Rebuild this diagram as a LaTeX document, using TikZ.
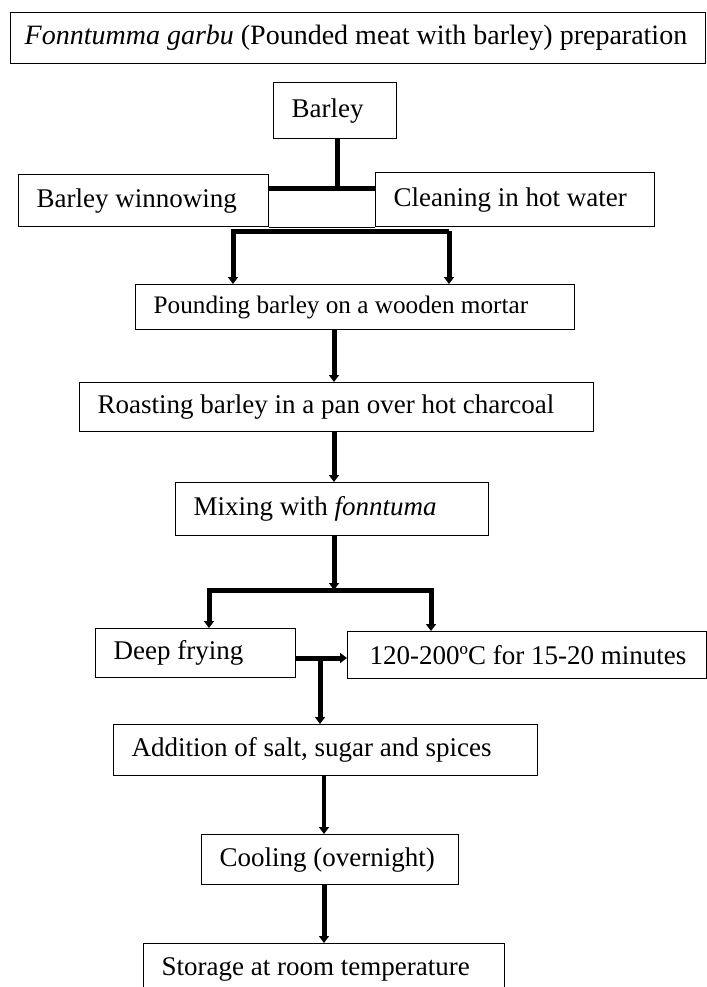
\documentclass[tikz,border=0pt]{standalone}
\usepackage{fontspec}
\setmainfont{Liberation Serif}
\usetikzlibrary{arrows.meta}
\newcommand{\lbox}[2]{\makebox[#1][l]{#2}}

\begin{document}
\begin{tikzpicture}[x=0.5pt,y=-0.5pt]
					\useasboundingbox (0,0) rectangle (707,987);
					\tikzstyle{every node}=[draw,shape=rectangle,line width=0.7pt,anchor=north west,inner xsep=9pt,inner ysep=0pt,font=\fontsize{13.5}{16}\selectfont]
					\tikzstyle{link}=[line width=2.5pt]
					\tikzstyle{arr}=[link,-{Triangle[width=5pt,length=3.5pt]}]
						\path (10,12) node[inner xsep=7pt,minimum height=25.5pt,font=\fontsize{14}{16}\selectfont] (title) {\lbox{333.5pt}{\textit{Fonntumma garbu} (Pounded meat with barley) preparation}};
						\path (273,82) node[minimum height=28pt] (barley) {\lbox{43.5pt}{Barley}};
						\path (18,174) node[minimum height=26pt] (wn) {\lbox{107pt}{Barley winnowing}};
						\path (375,172) node[minimum height=27pt] (cl) {\lbox{121.5pt}{Cleaning in hot water}};
						\path (135,284) node[minimum height=22.5pt,font=\fontsize{12.6}{15}\selectfont] (pd) {\lbox{201.5pt}{Pounding barley on a wooden mortar}};
						\path (79,382) node[minimum height=24.5pt] (rs) {\lbox{239pt}{Roasting barley in a pan over hot charcoal}};
						\path (175,482) node[minimum height=26.5pt] (mx) {\lbox{138.5pt}{Mixing with \textit{fonntuma}}};
						\path (95,628) node[minimum height=24.5pt] (df) {\lbox{82pt}{Deep frying}};
						\path (347,631) node[inner xsep=11pt,minimum height=23.5pt] (tp) {\lbox{157.5pt}{120-200ºC for 15-20 minutes}};
						\path (113,724) node[minimum height=25.5pt] (ad) {\lbox{194pt}{Addition of salt, sugar and spices}};
						\path (201,834) node[minimum height=25pt] (co) {\lbox{110.5pt}{Cooling (overnight)}};
						\path (143,943) node[minimum height=26pt] (st) {\lbox{162.5pt}{Storage at room temperature}};
						\coordinate (j1) at (337,188);
						\coordinate (j2l) at (233,231);
						\coordinate (j2r) at (449,231);
						\coordinate (sp1) at (334,0);
						\coordinate (j3m) at (334,590);
						\coordinate (j3l) at (209,590);
						\coordinate (j3r) at (431,590);
						\coordinate (j4) at (320,658);
						\coordinate (sp2) at (324,0);
						\draw[link] (barley.south -| j1) -- (j1);
						\draw[link] (wn.east |- j1) -- (cl.west |- j1);
						\draw[line width=0.7pt] (wn.south east) -- (cl.south west);
						\draw[arr] (j2r) -- (j2l) -- (j2l |- pd.north);
						\draw[arr] (j2r) -- (j2r |- pd.north);
						\draw[arr] (pd.south -| sp1) -- (rs.north -| sp1);
						\draw[arr] (rs.south -| sp1) -- (mx.north -| sp1);
						\draw[arr] (mx.south -| sp1) -- (j3m);
						\draw[arr] (j3m) -- (j3l) -- (j3l |- df.north);
						\draw[arr] (j3m) -- (j3r) -- (j3r |- tp.north);
						\draw[arr] (df.east |- j4) -- (tp.west |- j4);
						\draw[arr] (j4) -- (j4 |- ad.north);
						\draw[arr,line width=1.8pt] (ad.south -| sp2) -- (co.north -| sp2);
						\draw[arr] (co.south -| sp2) -- (st.north -| sp2);
					\end{tikzpicture}
\end{document}
